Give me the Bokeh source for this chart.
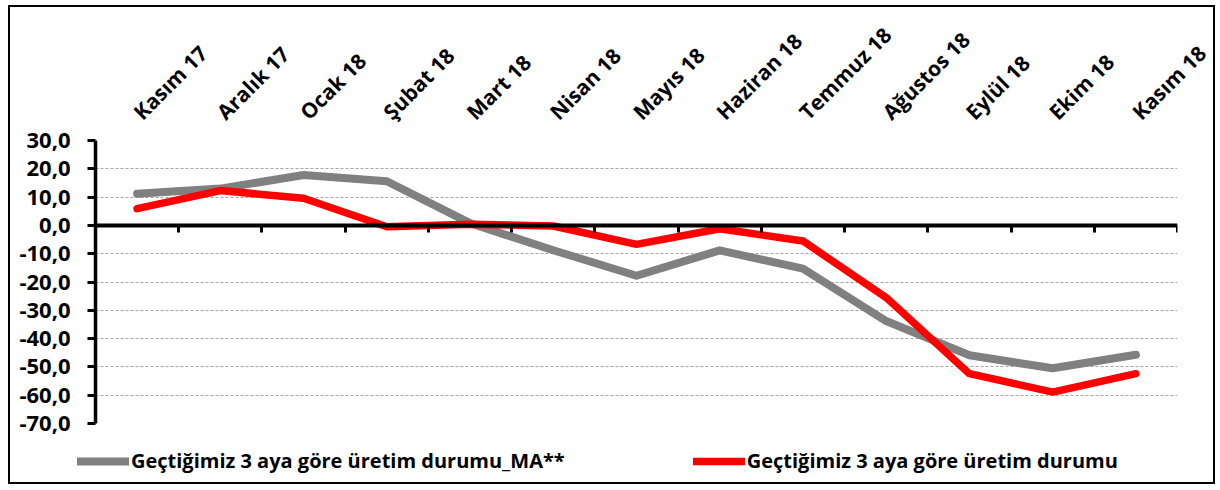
import math
from bokeh.plotting import figure
from bokeh.models import (Range1d, FactorRange, LinearAxis, FixedTicker, Legend,
                          LegendItem, CustomJSTickFormatter)
from bokeh.embed import file_html
from bokeh.resources import INLINE

categories = ["Kasım 17", "Aralık 17", "Ocak 18", "Şubat 18", "Mart 18", "Nisan 18",
              "Mayıs 18", "Haziran 18", "Temmuz 18", "Ağustos 18", "Eylül 18",
              "Ekim 18", "Kasım 18"]
ma_values = [11.2, 13.0, 17.8, 15.6, 0.8, -8.8, -17.8, -8.8, -15.3, -33.8, -45.9, -50.5, -45.7]
raw_values = [5.9, 12.3, 9.6, -0.5, 0.4, -0.2, -6.7, -1.2, -5.5, -25.5, -52.4, -58.9, -52.4]
y_ticks = [-70, -60, -50, -40, -30, -20, -10, 0, 10, 20, 30]
series_names = ["Geçtiğimiz 3 aya göre üretim durumu_MA**",
                "Geçtiğimiz 3 aya göre üretim durumu"]
series_colors = ["#808080", "#ff0000"]
series_widths = [8, 7.5]

FONT = "Open Sans"

p = figure(width=1207, height=479,
           x_range=FactorRange(*categories, range_padding=0),
           y_range=Range1d(y_ticks[0], y_ticks[-1]),
           x_axis_location="above", y_axis_location="left",
           output_backend="svg", toolbar_location=None)
p.styles = {"border": "2px solid black", "position": "absolute",
            "left": "8px", "top": "5px"}
p.min_border_left = 85
p.min_border_right = 40
p.min_border_top = 133
p.min_border_bottom = 63
p.outline_line_color = None
p.background_fill_color = "white"
p.border_fill_color = "white"

# top category labels
xa = p.xaxis[0]
xa.axis_line_color = None
xa.major_tick_line_color = None
xa.major_tick_out = 0
xa.major_tick_in = 0
xa.major_label_orientation = math.pi / 4
xa.major_label_standoff = 25
xa.major_label_text_font = FONT
xa.major_label_text_font_style = "bold"
xa.major_label_text_font_size = "21px"
xa.major_label_text_color = "black"
p.xgrid.visible = False

# y axis
ya = p.yaxis[0]
ya.ticker = FixedTicker(ticks=y_ticks)
ya.formatter = CustomJSTickFormatter(code="return tick.toFixed(1).replace('.', ',');")
ya.axis_line_width = 3.5
ya.axis_line_color = "black"
ya.major_tick_out = 8
ya.major_tick_in = 0
ya.major_tick_line_width = 3
ya.minor_tick_line_color = None
ya.major_label_standoff = 17
ya.major_label_text_font = FONT
ya.major_label_text_font_style = "bold"
ya.major_label_text_font_size = "22px"
ya.major_label_text_color = "black"

p.ygrid.ticker = FixedTicker(ticks=y_ticks)
p.ygrid.grid_line_color = "#a6a6a6"
p.ygrid.grid_line_dash = "3 2"
p.ygrid.grid_line_width = 1

# horizontal axis at zero with ticks between categories (category edges in synthetic coords)
zero_axis = LinearAxis(fixed_location=0,
                       ticker=FixedTicker(ticks=list(range(len(categories) + 1))),
                       axis_line_width=4, axis_line_color="black",
                       major_tick_out=7, major_tick_in=0, major_tick_line_width=3,
                       minor_tick_line_color=None,
                       major_label_text_color=None, major_label_text_font_size="0px")
p.add_layout(zero_axis, "below")

p.line(categories, ma_values, line_color=series_colors[0], line_width=series_widths[0],
       line_cap="round", line_join="round")
p.line(categories, raw_values, line_color=series_colors[1], line_width=series_widths[1],
       line_cap="round", line_join="round")

# legend strip laid over the bottom of the chart box
pl = figure(width=1207, height=44,
            x_range=FactorRange(*categories, range_padding=0),
            y_range=Range1d(y_ticks[0], y_ticks[-1]),
            x_axis_location=None, y_axis_location=None,
            output_backend="svg", toolbar_location=None, min_border=0)
pl.styles = {"position": "absolute", "left": "10px", "top": "438px"}
pl.outline_line_color = None
pl.background_fill_color = None
pl.border_fill_color = None
pl.xgrid.visible = False
pl.ygrid.visible = False
items = []
for name, col, lw, vals in zip(series_names, series_colors, series_widths,
                               [ma_values, raw_values]):
    # single-point proxy: draws no stroke in the strip, only gives the legend its style
    r = pl.line(categories[:1], vals[:1], line_color=col, line_width=lw, line_cap="round")
    items.append(LegendItem(label=name, renderers=[r]))
legend = Legend(items=items, orientation="horizontal", location=(67, 8),
                border_line_color=None, background_fill_alpha=0,
                padding=0, margin=0, spacing=128, glyph_width=52, glyph_height=20,
                label_standoff=2, label_text_font=FONT, label_text_font_style="bold",
                label_text_font_size="20px", label_text_color="black")
pl.add_layout(legend, "center")

open("out.html", "w").write(file_html([p, pl], INLINE))
